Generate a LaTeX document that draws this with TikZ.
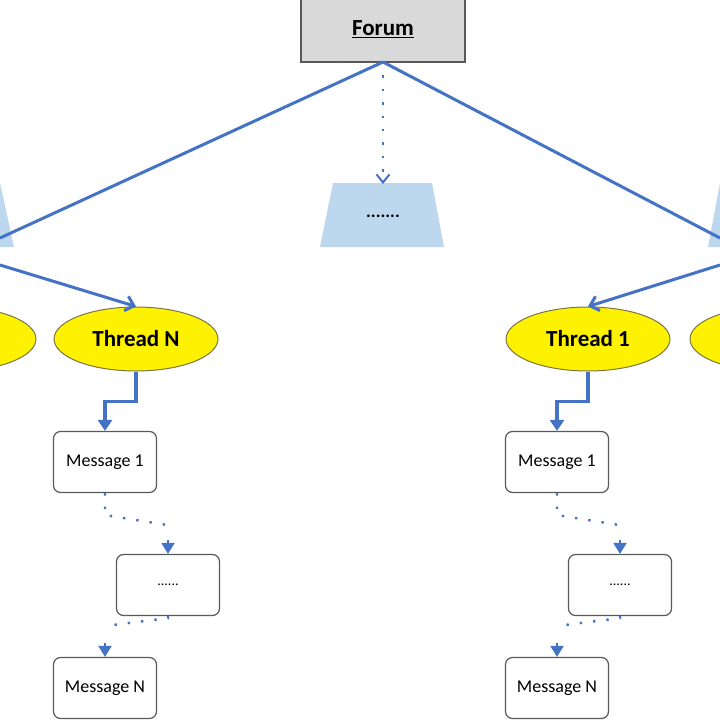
\documentclass[tikz,border=0pt]{standalone}
\usepackage{fontspec}
\setmainfont{Carlito}
\usetikzlibrary{arrows.meta,shapes.geometric}
\definecolor{lb}{HTML}{4472C4}
\definecolor{tz}{HTML}{BDD7EE}
\begin{document}
\begin{tikzpicture}[x=1pt,y=-1pt,
 conn/.style={draw=lb,line width=3pt},
 thick/.style={draw=lb,line width=3.4pt,-{Triangle[length=11pt,width=14pt]}},
 dots/.style={draw=lb,line width=2.4pt,dash pattern=on 2.4pt off 11pt},
 tip/.style={draw=lb,line width=2pt,-{Triangle[length=11pt,width=13pt]}},
 trap/.style={fill=tz,draw=none},
 thr/.style={ellipse,fill=yellow,draw=black!60!yellow,line width=1pt,minimum width=164pt,minimum height=64pt,font=\fontsize{23}{24}\selectfont\bfseries},
 msg/.style={rectangle,rounded corners=7pt,draw=black!65,line width=1.2pt,fill=white,minimum width=103pt,minimum height=61pt,font=\fontsize{18}{19}\selectfont}]
\useasboundingbox (0,0) rectangle (720,720);
\begin{scope}
\clip (0,0) rectangle (720,720);
% forum
\node[rectangle,fill=black!15,draw=black!65,line width=1.2pt,minimum width=164pt,minimum height=66pt,font=\fontsize{23}{24}\selectfont\bfseries] (forum) at (383,29) {\underline{Forum}};
% trapezoids
\fill[trap] (333,183) -- (432,183) -- (444,247) -- (320,247) -- cycle;
\node (mid) at (383,216) {\fontsize{18}{18}\selectfont\bfseries .......};
\fill[trap] (-100,183) -- (0,183) -- (14,247) -- (-110,247) -- cycle;
\fill[trap] (720,183) -- (819,183) -- (830,247) -- (708,247) -- cycle;
\coordinate (ltop) at (0,238);
\coordinate (rtop) at (720,238);
\coordinate (lbot) at (0,265);
\coordinate (rbot) at (720,265);
\coordinate (fb) at (383,62);
\draw[conn] (fb) -- (ltop);
\draw[conn] (fb) -- (rtop);
\draw[dots,-{Straight Barb[length=8pt,width=13pt,line width=2pt]}] (fb) -- (383,184);
% threads
\node[thr] (tl) at (-46,339) {};
\node[thr] (tn) at (136,339) {Thread N};
\node[thr] (t1) at (588,339) {Thread 1};
\node[thr] (tr) at (772,339) {};
\draw[conn,-{Straight Barb[length=8pt,width=15pt]}] (lbot) -- (tn.north);
\draw[conn,-{Straight Barb[length=8pt,width=15pt]}] (rbot) -- (t1.north);
\foreach \d/\t in {0/tn,452/t1}{
 \begin{scope}[xshift=\d]
 \node[msg] (m1\t) at (105,462) {Message 1};
 \node[msg] (md\t) at (168,585) {\fontsize{14}{14}\selectfont ......};
 \node[msg] (mn\t) at (105,688) {Message N};
 \end{scope}
}
\foreach \t in {tn,t1}{
 \draw[thick] (\t.south) -- ++(0,30) -| (m1\t.north);
 \draw[dots] (m1\t.south) -- ++(0,22) -- ++(63,10);
 \draw[tip] ([yshift=14pt]md\t.north) -- (md\t.north);
 \draw[dots] (md\t.south) -- ++(0,2) -- ++(-64,8);
 \draw[tip] ([yshift=14pt]mn\t.north) -- (mn\t.north);
}
\end{scope}
\end{tikzpicture}
\end{document}
